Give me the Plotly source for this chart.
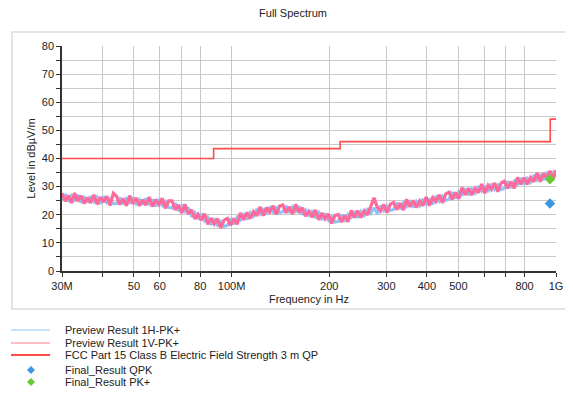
import plotly.graph_objects as go
import math

# ---------------- data ----------------
freq_mhz = [
    30, 30.7, 31.4, 32.1, 32.8, 33.5, 34.3, 35.1, 35.9, 36.7, 37.6, 38.5, 39.4,
    40.3, 41.2, 42.2, 43.2, 44.2, 45.2, 46.3, 47.4, 48.5, 49.6,
    50.8, 52, 53.2, 54.4, 55.7, 57, 58.3, 59.7, 61.1, 62.5, 64, 65.5, 67, 68.6,
    70.2, 71.8, 73.5, 75.2, 77, 78.8, 80.6, 82.5, 84.4, 86.4, 88.4, 90.5, 92.6, 94.8, 97, 99.3,
    101.6, 104, 106.4, 108.9, 111.5, 114.1, 116.8, 119.5, 122.3, 125.2, 128.1, 131.1, 134.2, 137.3, 140.5, 143.8, 147.2,
    150.6, 154.1, 157.7, 161.4, 165.2, 169.1, 173, 177.1, 181.2, 185.5, 189.8, 194.2, 198.8,
    203.4, 208.2, 213.1, 218.1, 223.2, 228.4, 233.7, 239.2, 244.8, 250.5, 256.4, 262.4, 268.5, 274.8, 281.2, 287.8, 294.5,
    301.4, 308.5, 315.7, 323.1, 330.7, 338.4, 346.3, 354.4, 362.7, 371.2, 379.9, 388.8, 397.9, 407.2, 416.7, 426.5,
    436.5, 446.7, 457.2, 467.9, 478.8, 490,
    501.5, 513.2, 525.2, 537.5, 550.1, 563, 576.2, 589.7, 603.5, 617.6, 632.1, 646.9, 662, 677.5, 693.4, 709.6,
    726.2, 743.2, 760.6, 778.4, 796.6, 815.3, 834.4, 853.9, 873.9, 894.4, 915.3, 936.7, 958.6, 981, 1000,
]

lvl_1v = [
    27.7, 24.8, 26.8, 24.2, 27.7, 24.8, 26.8, 24.0, 26.1, 24.2, 27.1, 23.7, 26.3,
    24.5, 26.6, 23.3, 27.6, 26.5, 23.7, 25.8, 23.2, 26.8, 23.9,
    26.0, 23.2, 25.3, 23.4, 26.3, 22.9, 25.4, 23.6, 25.9, 22.3, 24.9, 24.9, 21.7, 23.5,
    20.6, 23.7, 20.3, 21.8, 18.6, 20.2, 18.0, 20.4, 16.6, 18.8, 16.7, 18.6, 15.3, 18.1, 18.7, 16.2,
    18.7, 16.6, 20.6, 18.2, 20.8, 18.6, 21.1, 19.6, 22.8, 19.7, 22.5, 20.9, 23.2, 20.1, 23.1, 23.5, 20.7,
    22.8, 20.2, 23.7, 20.7, 22.5, 19.5, 21.2, 19.1, 21.7, 18.2, 20.6, 18.5, 20.3,
    16.9, 19.7, 20.1, 17.4, 19.7, 17.5, 21.5, 19.0, 21.4, 19.0, 21.4, 19.9, 23.0, 26.0, 22.7, 21.3, 23.7,
    20.7, 23.8, 24.4, 21.8, 24.1, 21.7, 25.5, 22.8, 25.1, 22.6, 24.9, 23.2, 26.3, 23.2, 26.1, 24.7,
    27.1, 24.2, 27.4, 28.0, 25.5, 27.9,
    25.7, 29.6, 27.1, 29.4, 27.0, 29.4, 27.8, 30.9, 27.7, 30.5, 29.0, 31.3, 28.2, 31.3, 31.9, 29.4,
    31.7, 29.4, 33.3, 30.8, 33.2, 30.8, 33.2, 31.7, 34.8, 31.8, 34.7, 33.2, 35.6, 32.7, 35.8,
]

lvl_1h = [
    25.2, 27.3, 24.7, 26.8, 25.2, 27.1, 24.3, 26.2, 24.4, 26.6, 24.6, 26.3, 23.9,
    26.5, 24.3, 25.7, 23.9, 24.0, 26.2, 23.7, 25.8, 24.3, 26.2,
    23.5, 25.4, 23.6, 25.8, 23.8, 25.5, 23.0, 25.6, 23.3, 24.7, 22.6, 22.4, 24.2, 21.4,
    23.2, 21.2, 22.6, 19.3, 20.8, 18.5, 20.4, 17.9, 19.2, 16.4, 18.7, 16.3, 17.7, 15.8, 16.2, 18.7,
    16.6, 19.2, 18.1, 20.5, 18.3, 20.8, 19.4, 22.0, 20.3, 22.3, 20.1, 22.9, 20.9, 22.5, 20.8, 21.0, 23.2,
    20.7, 22.8, 21.2, 23.0, 20.0, 21.7, 19.5, 21.5, 19.2, 20.8, 18.2, 20.5, 18.0,
    19.3, 17.4, 17.6, 19.9, 17.6, 20.1, 19.0, 21.3, 18.9, 21.2, 19.7, 22.3, 20.5, 22.5, 20.3, 23.3, 21.4,
    23.1, 21.5, 21.9, 24.3, 22.0, 24.3, 23.0, 25.1, 22.6, 24.8, 23.2, 25.6, 23.8, 25.8, 23.7, 26.7,
    24.8, 26.6, 25.1, 25.5, 28.0, 25.8,
    28.3, 27.1, 29.4, 26.9, 29.2, 27.7, 30.2, 28.4, 30.3, 28.1, 31.0, 29.0, 30.6, 29.0, 29.4, 31.9,
    29.6, 32.0, 30.8, 33.1, 30.7, 33.0, 31.5, 34.1, 32.3, 34.4, 32.3, 35.2, 33.3, 35.1, 33.5,
]

limit_freq_mhz = [30, 88, 216, 960, 1000]
limit_level = [40, 43.5, 46, 54, 54]

final_freq_mhz = [958]
final_qpk = [24.0]
final_pk = [32.6]

x_tickvals = [30, 40, 50, 60, 70, 80, 100, 200, 300, 400, 500, 600, 700, 800, 1000]
x_ticktext = ["30M", "", "50", "60", "", "80", "100M", "200", "300", "400", "500", "", "", "800", "1G"]

series_names = [
    "Preview Result 1H-PK+",
    "Preview Result 1V-PK+",
    "FCC Part 15 Class B Electric Field Strength 3 m QP",
    "Final_Result QPK",
    "Final_Result PK+",
]

# ---------------- styling ----------------
C_1H = "#8cc4fa"
C_1V = "#ff6a9a"
C_1V_LEG = "#ff7b8e"
C_LIM = "#ff4b4b"
C_QPK = "#3c96e0"
C_PK = "#68c934"
GRID = "#c9c9c9"
AXIS = "#333333"
TXT = "#222222"
FONT = "Liberation Sans, Arial, sans-serif"

# the page body adds an 8 px offset, so the figure is drawn 8 px smaller
OFF = 8
W, H = 573 - OFF, 394 - OFF
PL, PR, PT, PB = 62, 556, 46, 271          # plot area in reference pixels
ML, MR, MT, MB = PL - OFF, W - (PR - OFF), PT - OFF, H - (PB - OFF)
PW, PH = PR - PL, PB - PT


def px(xp):
    return (xp - PL) / PW


def py(yp):
    return (PB - yp) / PH


fig = go.Figure()
fig.add_trace(go.Scatter(x=freq_mhz, y=lvl_1h, mode="lines", name=series_names[0],
                         line=dict(color=C_1H, width=3.0)))
fig.add_trace(go.Scatter(x=freq_mhz, y=lvl_1v, mode="lines", name=series_names[1],
                         line=dict(color=C_1V, width=3.2)))
fig.add_trace(go.Scatter(x=limit_freq_mhz, y=limit_level, mode="lines", name=series_names[2],
                         line=dict(color=C_LIM, width=1.6, shape="hv")))
fig.add_trace(go.Scatter(x=final_freq_mhz, y=final_qpk, mode="markers", name=series_names[3],
                         marker=dict(symbol="diamond", size=8, color=C_QPK)))
fig.add_trace(go.Scatter(x=final_freq_mhz, y=final_pk, mode="markers", name=series_names[4],
                         marker=dict(symbol="diamond", size=8, color=C_PK)))

shapes = []
# outer light frame
shapes.append(dict(type="rect", xref="paper", yref="paper",
                   x0=px(12), x1=px(571), y0=py(309), y1=py(32),
                   line=dict(color="#dcdcdc", width=1.5), fillcolor="rgba(0,0,0,0)", layer="below"))

# manual legend
leg_rows = [330, 343, 355, 370, 382]
leg_line_styles = [(C_1H, 1), (C_1V_LEG, 1), (C_LIM, 2)]
for i, (col, wd) in enumerate(leg_line_styles):
    shapes.append(dict(type="line", xref="paper", yref="paper",
                       x0=px(11), x1=px(50), y0=py(leg_rows[i]), y1=py(leg_rows[i]),
                       line=dict(color=col, width=wd)))
for i, col in zip([3, 4], [C_QPK, C_PK]):
    shapes.append(dict(type="path", xref="paper", yref="paper",
                       xsizemode="pixel", ysizemode="pixel",
                       xanchor=px(31), yanchor=py(leg_rows[i]),
                       path="M0,4 L4,0 L0,-4 L-4,0 Z",
                       fillcolor=col, line=dict(color=col, width=0)))

annotations = []
for i, name in enumerate(series_names):
    annotations.append(dict(text=name, xref="paper", yref="paper",
                            x=px(63), y=py(leg_rows[i]), xanchor="left", yanchor="middle",
                            showarrow=False, font=dict(size=11, color=TXT, family=FONT)))

fig.update_layout(
    width=W, height=H,
    margin=dict(l=ML, r=MR, t=MT, b=MB, autoexpand=False),
    paper_bgcolor="white", plot_bgcolor="white",
    showlegend=False,
    font=dict(family=FONT, size=11, color=TXT),
    title=dict(text="Full Spectrum", x=(293 - OFF) / W, xanchor="center", xref="container",
               y=1 - (13 - OFF) / H, yanchor="middle", font=dict(size=11, color=TXT, family=FONT)),
    shapes=shapes,
    annotations=annotations,
)

fig.update_xaxes(
    type="log", range=[math.log10(30), math.log10(1000)], automargin=False,
    tickmode="array", tickvals=x_tickvals, ticktext=x_ticktext,
    ticks="outside", ticklen=4, tickwidth=1.2, tickcolor=AXIS,
    showline=True, linecolor=AXIS, linewidth=1.5,
    showgrid=True, gridcolor=GRID, gridwidth=1, zeroline=False,
    tickfont=dict(size=11, color=TXT, family=FONT),
    title=dict(text="Frequency in Hz", font=dict(size=11, color=TXT, family=FONT), standoff=4),
)
fig.update_yaxes(
    range=[0, 80], dtick=10, tick0=0, automargin=False,
    ticks="outside", ticklen=4, tickwidth=1.2, tickcolor=AXIS,
    showline=True, linecolor=AXIS, linewidth=1.5,
    showgrid=True, gridcolor=GRID, gridwidth=1, zeroline=False,
    minor=dict(dtick=5, tick0=0, ticks="outside", ticklen=4, tickcolor=AXIS,
               showgrid=True, gridcolor=GRID, gridwidth=1),
    tickfont=dict(size=11, color=TXT, family=FONT),
    title=dict(text="Level in dBµV/m", font=dict(size=11, color=TXT, family=FONT), standoff=4),
)

fig.write_html("out.html")
